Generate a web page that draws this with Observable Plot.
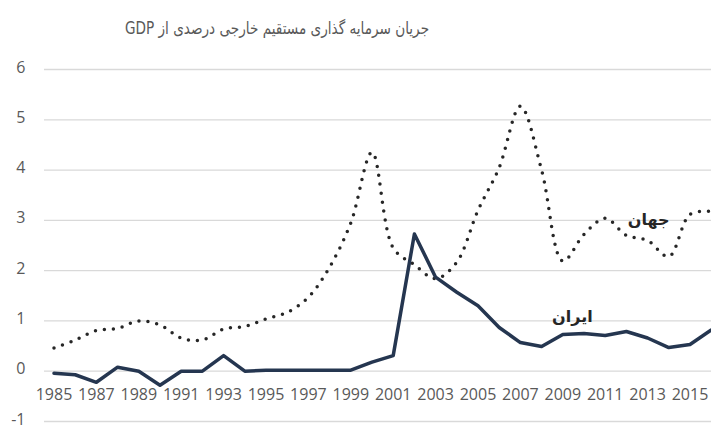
<!DOCTYPE html>
<html>
<head>
<meta charset="utf-8">
<script src="https://cdn.jsdelivr.net/npm/d3@7"></script>
<script src="https://cdn.jsdelivr.net/npm/@observablehq/plot@0.6"></script>
<style>
  body { margin: 0; background: #fff; font-family: "Open Sans", sans-serif; }
  #titlebox { width: 555px; height: 50px; text-align: center; }
  #title { display: inline-block; line-height: 56px; font-size: 17px; color: #595959; font-family: "DejaVu Sans", "Open Sans", sans-serif; white-space: nowrap; transform: scaleX(0.8); transform-origin: center; }
</style>
</head>
<body>
<div id="titlebox"><span id="title" dir="rtl">جریان سرمایه گذاری مستقیم خارجی درصدی از GDP</span></div>
<div id="chart"></div>
<script>
const years = [1985,1986,1987,1988,1989,1990,1991,1992,1993,1994,1995,1996,1997,1998,1999,2000,
               2001,2002,2003,2004,2005,2006,2007,2008,2009,2010,2011,2012,2013,2014,2015,2016];
const iran  = [-0.04,-0.07,-0.22,0.08,0.0,-0.28,0.0,0.0,0.31,0.0,0.02,0.02,0.02,0.02,0.02,0.18,
               0.31,2.73,1.87,1.57,1.30,0.87,0.57,0.49,0.73,0.75,0.71,0.79,0.66,0.47,0.53,0.82];
const world = [0.46,0.62,0.81,0.85,1.0,0.92,0.66,0.62,0.84,0.89,1.04,1.17,1.47,2.07,2.95,4.35,
               2.45,2.12,1.84,2.17,3.2,4.05,5.27,4.0,2.19,2.72,3.04,2.70,2.60,2.28,3.12,3.18];
const xTicks = [1985,1987,1989,1991,1993,1995,1997,1999,2001,2003,2005,2007,2009,2011,2013,2015];
const yTicks = [-1,0,1,2,3,4,5,6];
const seriesLabels = [
  {name: "جهان", year: 2013.05, value: 3.0},
  {name: "ایران", year: 2009.45, value: 1.09}
];

const data = years.map((year, i) => ({year, iran: iran[i], world: world[i]}));

const chart = Plot.plot({
  width: 711,
  height: 375,
  marginLeft: 44,
  marginRight: 0,
  marginTop: 19,
  marginBottom: 4,
  x: {domain: [1985, 2016], range: [53.5, 710.7], axis: null},
  y: {domain: [-1, 6], axis: null},
  style: {fontFamily: "'Open Sans', sans-serif", fontSize: "16px", color: "#595959", background: "#fff"},
  marks: [
    Plot.ruleY(yTicks, {stroke: "#d9d9d9", strokeWidth: 1.3}),
    Plot.axisY(yTicks, {tickSize: 0, tickPadding: 19, dy: -2, fontSize: 16, fill: "#595959", tickFormat: d => String(d), label: null}),
    Plot.axisX(xTicks, {anchor: "bottom", tickSize: 0, tickPadding: 0, dy: -33, fontSize: 16, fill: "#595959", tickFormat: d => String(d), label: null}),
    Plot.line(data, {x: "year", y: "world", stroke: "#262626", strokeWidth: 3.5, strokeDasharray: "0 9", strokeLinecap: "round", curve: "catmull-rom", clip: true}),
    Plot.line(data, {x: "year", y: "iran", stroke: "#253650", strokeWidth: 3.5, strokeLinejoin: "round", clip: true}),
    Plot.text(seriesLabels, {x: "year", y: "value", text: "name", fontSize: 16, fontWeight: "bold", fill: "#262626", fontFamily: "'DejaVu Sans', sans-serif"})
  ]
});
document.getElementById("chart").appendChild(chart);
</script>
</body>
</html>
